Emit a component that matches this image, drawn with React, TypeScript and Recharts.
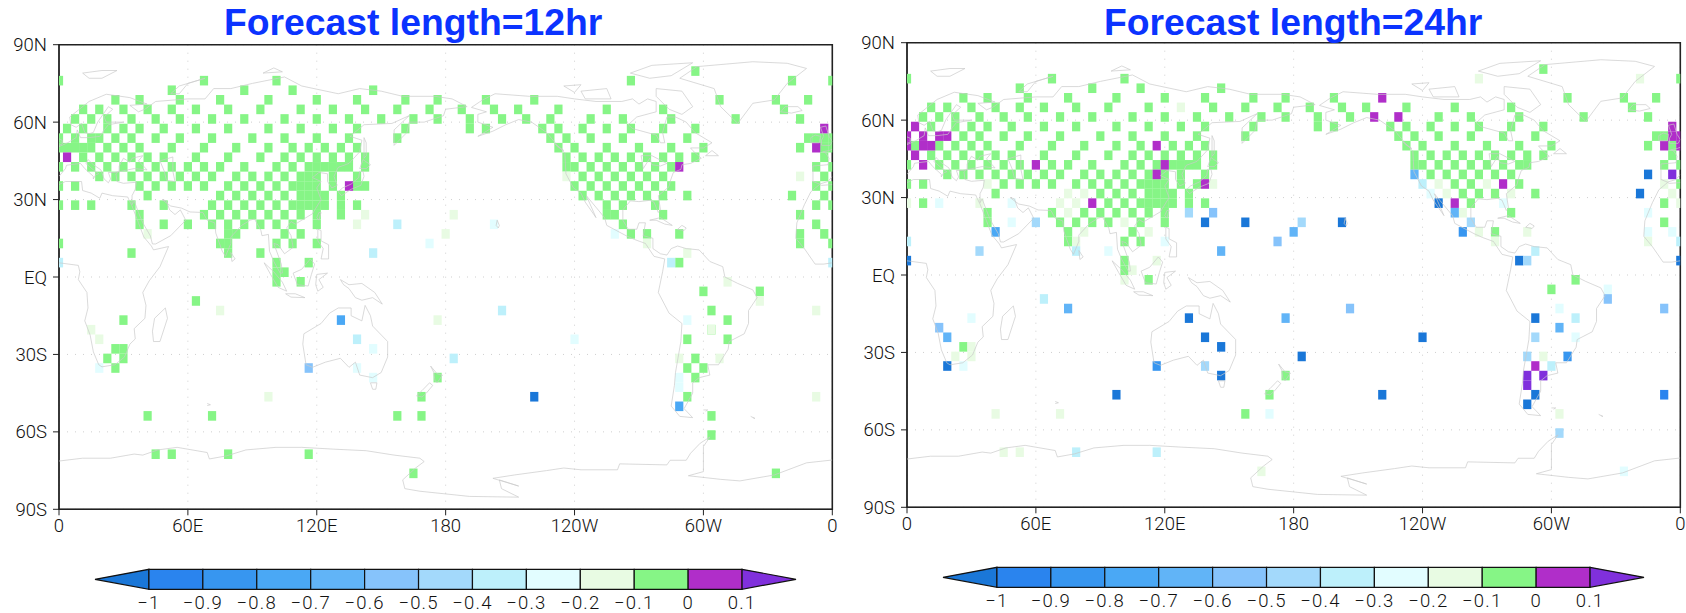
import { BarChart, Bar, CartesianGrid, ReferenceArea, Scatter, ScatterChart, XAxis, YAxis } from 'recharts';

type Row = [number, number[]];
type Other = [number, number, number];

const LON_STEP = 3.75;
const lonTicks = [0, 60, 120, 180, 240, 300, 360];
const lonLabels = ['0', '60E', '120E', '180', '120W', '60W', '0'];
const latTicks = [-90, -60, -30, 0, 30, 60, 90];
const latLabels = ['90S', '60S', '30S', 'EQ', '30N', '60N', '90N'];
const barLabels = ['\u22121', '\u22120.9', '\u22120.8', '\u22120.7', '\u22120.6', '\u22120.5', '\u22120.4', '\u22120.3', '\u22120.2', '\u22120.1', '0', '0.1'];
const barTicks = [-1, -0.9, -0.8, -0.7, -0.6, -0.5, -0.4, -0.3, -0.2, -0.1, 0, 0.1];
const fills = ['#1a77d8', '#2a84ee', '#3796f0', '#4aa8f5', '#61b4f7', '#86c3fb', '#a3d9fb', '#bdf0fb', '#e2fdff', '#e8fbe3', '#86f586', '#b02ec9', '#8030dc'];

// green (-0.1..0) cells: latitude, then grid columns (column * 3.75 = longitude)
const green12: Row[] = [
  [79.78, [79]],
  [76.07, [0, 18, 27, 71, 91, 96]],
  [72.36, [14, 23, 29, 39]],
  [68.65, [7, 10, 15, 20, 26, 32, 37, 43, 47, 53, 59, 82, 89, 93]],
  [64.94, [3, 5, 8, 11, 14, 17, 21, 25, 30, 34, 38, 42, 46, 50, 54, 57, 62, 68, 75, 90]],
  [61.23, [2, 4, 6, 9, 12, 15, 19, 23, 28, 32, 36, 40, 44, 47, 51, 55, 58, 61, 66, 70, 76, 84, 92]],
  [57.52, [1, 3, 6, 8, 10, 13, 17, 21, 26, 30, 34, 37, 43, 51, 53, 60, 62, 65, 68, 71, 75, 79]],
  [53.81, [0, 2, 4, 5, 7, 9, 12, 15, 19, 24, 28, 32, 36, 42, 61, 63, 66, 70, 74, 78, 93, 94, 95, 96]],
  [50.1, [0, 1, 2, 3, 4, 6, 8, 10, 14, 18, 22, 26, 29, 31, 33, 35, 37, 62, 64, 68, 72, 76, 80, 92, 95, 96]],
  [46.39, [3, 5, 7, 9, 11, 13, 17, 21, 25, 28, 30, 32, 34, 36, 38, 63, 65, 67, 69, 71, 73, 75, 77, 79, 95]],
  [42.68, [0, 2, 4, 6, 8, 10, 12, 14, 16, 18, 20, 23, 27, 29, 31, 32, 33, 34, 35, 36, 38, 63, 64, 66, 68, 70, 72, 74, 76, 94, 96]],
  [38.97, [5, 7, 9, 11, 13, 15, 17, 19, 22, 24, 26, 28, 30, 31, 32, 34, 37, 65, 67, 69, 71, 73, 75, 95]],
  [35.26, [0, 2, 10, 12, 14, 16, 18, 21, 23, 25, 27, 29, 30, 31, 32, 34, 37, 38, 64, 66, 68, 70, 72, 74, 76, 94, 96]],
  [31.55, [11, 20, 22, 24, 26, 28, 30, 31, 32, 33, 35, 65, 67, 69, 71, 73, 75, 78, 91, 95]],
  [27.84, [0, 2, 4, 9, 13, 19, 21, 23, 25, 27, 29, 30, 31, 32, 33, 35, 37, 68, 70, 74, 94, 96]],
  [24.13, [10, 18, 20, 22, 24, 26, 28, 30, 32, 35, 68, 69, 75, 92]],
  [20.41, [10, 13, 16, 19, 21, 23, 25, 27, 29, 32, 70, 94]],
  [16.7, [21, 22, 28, 30, 71, 73, 77, 92, 95]],
  [12.99, [0, 20, 21, 27, 29, 32, 92, 96]],
  [9.28, [9, 21, 25]],
  [5.57, [27, 31, 77]],
  [1.86, [27, 28]],
  [-1.86, [27, 30]],
  [-5.57, [80, 87]],
  [-9.28, [17]],
  [-12.99, [81]],
  [-16.7, [8, 83]],
  [-20.41, [81]],
  [-24.13, [78, 83]],
  [-27.84, [7, 8]],
  [-31.55, [6, 8, 79]],
  [-35.26, [7, 78, 80]],
  [-38.97, [47, 79]],
  [-46.39, [45, 78]],
  [-53.81, [11, 19, 42, 45, 81]],
  [-61.23, [81]],
  [-68.65, [12, 14, 21, 31]],
  [-76.07, [44, 89]],
];

const others12: Other[] = [
  [57.52, 95, 0.05], [50.1, 94, 0.05], [46.39, 1, 0.05], [42.68, 77, 0.05], [35.26, 36, 0.05],
  [38.97, 63, -0.15], [38.97, 92, -0.15], [24.13, 38, -0.15], [24.13, 49, -0.15], [20.41, 37, -0.15],
  [20.41, 42, -0.35], [20.41, 54, -0.25], [16.7, 11, -0.15], [16.7, 48, -0.15], [16.7, 69, -0.25],
  [12.99, 73, -0.15], [12.99, 46, -0.25], [9.28, 39, -0.35], [9.28, 78, -0.15], [5.57, 0, -0.35],
  [5.57, 96, -0.35], [5.57, 76, -0.35], [-1.86, 83, -0.15], [-9.28, 87, -0.15], [-12.99, 20, -0.15],
  [-12.99, 94, -0.15], [-12.99, 55, -0.35], [-16.7, 35, -0.75], [-16.7, 47, -0.15], [-16.7, 78, -0.25],
  [-20.41, 4, -0.15], [-24.13, 5, -0.15], [-24.13, 37, -0.35], [-24.13, 64, -0.25], [-20.41, 81, -0.15],
  [-27.84, 39, -0.25], [-31.55, 49, -0.35], [-31.55, 77, -0.15], [-31.55, 82, -0.15], [-35.26, 5, -0.25],
  [-35.26, 37, -0.25], [-35.26, 31, -0.55], [-38.97, 39, -0.25], [-38.97, 77, -0.25], [-42.68, 77, -0.25],
  [-46.39, 59, -1.05], [-46.39, 26, -0.15], [-46.39, 94, -0.15], [-50.1, 77, -0.75],
];

const green24: Row[] = [
  [79.78, [79]],
  [76.07, [0, 18, 27, 96]],
  [72.36, [14, 23, 29, 39]],
  [68.65, [7, 10, 15, 20, 26, 32, 37, 43, 47, 53, 82, 89, 93]],
  [64.94, [3, 5, 8, 11, 14, 17, 21, 25, 30, 38, 42, 46, 50, 54, 57, 62, 68, 75, 90]],
  [61.23, [2, 4, 6, 9, 12, 15, 19, 23, 28, 32, 36, 40, 44, 47, 51, 55, 66, 70, 76, 84, 92]],
  [57.52, [3, 6, 8, 10, 13, 17, 21, 26, 30, 34, 37, 43, 51, 53, 60, 62, 65, 68, 71, 75, 79]],
  [53.81, [7, 9, 12, 15, 19, 24, 28, 32, 36, 42, 61, 63, 66, 70, 74, 78, 93, 94]],
  [50.1, [1, 4, 6, 8, 10, 14, 18, 22, 26, 29, 33, 35, 37, 62, 64, 68, 72, 76, 80, 92, 95]],
  [46.39, [3, 5, 7, 9, 11, 13, 17, 21, 25, 28, 30, 32, 34, 36, 38, 63, 65, 67, 69, 71, 73, 75, 77, 79, 95]],
  [42.68, [0, 4, 6, 8, 10, 12, 14, 18, 20, 23, 27, 29, 31, 33, 34, 35, 36, 38, 63, 64, 66, 68, 70, 72, 74, 76, 77, 94, 96]],
  [38.97, [5, 7, 9, 11, 13, 15, 17, 19, 22, 24, 26, 28, 30, 32, 34, 37, 65, 67, 69, 71, 73, 75]],
  [35.26, [0, 2, 12, 14, 16, 18, 21, 23, 25, 27, 29, 30, 31, 32, 34, 36, 68, 70, 76, 96]],
  [31.55, [11, 24, 26, 28, 30, 31, 32, 33, 35, 69, 71, 73, 78]],
  [27.84, [2, 25, 27, 29, 30, 31, 32, 33, 35, 37, 70, 94]],
  [24.13, [10, 18, 22, 24, 26, 28, 30, 32, 75]],
  [20.41, [10, 19, 21, 23, 25, 29, 32, 94]],
  [16.7, [20, 28, 73]],
  [12.99, [20, 27, 29]],
  [5.57, [27]],
  [1.86, [27]],
  [-1.86, [30, 83]],
  [-5.57, [80]],
  [-27.84, [7]],
  [-38.97, [47]],
  [-46.39, [45]],
  [-53.81, [42]],
];

const others24: Other[] = [
  [76.07, 71, -0.15], [76.07, 91, -0.15], [68.65, 59, 0.05], [64.94, 34, -0.15], [61.23, 58, 0.05],
  [61.23, 61, 0.05], [57.52, 1, 0.05], [57.52, 95, 0.05], [53.81, 0, 0.05], [53.81, 2, 0.05],
  [53.81, 4, 0.05], [53.81, 5, 0.05], [53.81, 95, 0.05], [53.81, 96, 0.05], [50.1, 0, 0.05],
  [50.1, 2, 0.05], [50.1, 3, 0.05], [50.1, 31, 0.05], [50.1, 94, 0.05], [50.1, 96, 0.05],
  [46.39, 1, 0.05], [42.68, 2, 0.05], [42.68, 16, 0.05], [42.68, 32, 0.05], [38.97, 31, 0.05],
  [38.97, 63, -0.65], [38.97, 92, -1.05], [38.97, 95, 0.15], [35.26, 37, 0.05], [35.26, 74, 0.05],
  [35.26, 10, -0.15], [35.26, 38, -0.15], [35.26, 66, -0.15], [35.26, 72, -0.15], [35.26, 94, -0.15],
  [35.26, 64, -0.35], [31.55, 20, -0.15], [31.55, 22, -0.15], [31.55, 67, -0.15], [31.55, 75, -0.15],
  [31.55, 95, -0.15], [31.55, 65, -0.25], [31.55, 91, -1.05], [27.84, 23, 0.05], [27.84, 68, 0.05],
  [27.84, 0, -0.15], [27.84, 9, -0.15], [27.84, 19, -0.15], [27.84, 21, -0.15], [27.84, 96, -0.15],
  [27.84, 4, -0.25], [27.84, 13, -0.25], [27.84, 74, -0.25], [27.84, 66, -1.05], [24.13, 20, -0.15],
  [24.13, 69, -0.15], [24.13, 35, -0.45], [24.13, 38, -0.55], [24.13, 68, -0.65], [24.13, 92, -0.25],
  [20.41, 13, -0.25], [20.41, 16, -0.45], [20.41, 27, -0.15], [20.41, 37, -1.05], [20.41, 42, -1.05],
  [20.41, 54, -1.05], [20.41, 49, -0.45], [20.41, 70, -0.45], [16.7, 22, -0.15], [16.7, 30, -0.15],
  [16.7, 71, -0.15], [16.7, 77, -0.15], [16.7, 11, -0.75], [16.7, 48, -0.65], [16.7, 69, -0.85],
  [16.7, 92, -0.25], [16.7, 95, -0.25], [12.99, 21, -0.15], [12.99, 73, -0.15], [12.99, 92, -0.15],
  [12.99, 32, -0.25], [12.99, 0, -0.35], [12.99, 96, -0.35], [12.99, 46, -0.55], [9.28, 9, -0.45],
  [9.28, 21, -0.35], [9.28, 25, -0.25], [9.28, 39, -0.65], [9.28, 78, -0.35], [5.57, 31, -0.15],
  [5.57, 0, -1.05], [5.57, 96, -1.05], [5.57, 76, -1.05], [5.57, 77, -0.45], [1.86, 28, -0.15],
  [-1.86, 27, -0.15], [-5.57, 87, -0.25], [-9.28, 17, -0.35], [-9.28, 87, -0.55], [-12.99, 20, -0.65],
  [-12.99, 55, -0.55], [-12.99, 94, -0.55], [-12.99, 81, -0.25], [-16.7, 8, -0.25], [-16.7, 35, -1.05],
  [-16.7, 47, -0.65], [-16.7, 78, -1.05], [-16.7, 83, -0.35], [-20.41, 4, -0.55], [-20.41, 81, -0.65],
  [-24.13, 5, -0.65], [-24.13, 37, -1.05], [-24.13, 64, -1.05], [-24.13, 78, -0.45], [-24.13, 83, -0.25],
  [-27.84, 8, -0.15], [-27.84, 39, -1.05], [-31.55, 6, -0.15], [-31.55, 8, -0.15], [-31.55, 79, -0.15],
  [-31.55, 49, -1.05], [-31.55, 77, -0.45], [-31.55, 82, -0.85], [-35.26, 5, -1.05], [-35.26, 7, -0.25],
  [-35.26, 31, -0.85], [-35.26, 37, -0.45], [-35.26, 78, 0.05], [-35.26, 80, -0.35], [-38.97, 39, -1.05],
  [-38.97, 77, 0.15], [-38.97, 79, 0.15], [-42.68, 77, 0.15], [-46.39, 26, -1.05], [-46.39, 59, -1.05],
  [-46.39, 78, -1.05], [-46.39, 94, -0.95], [-50.1, 77, -1.05], [-53.81, 11, -0.15], [-53.81, 19, -0.15],
  [-53.81, 81, -0.15], [-53.81, 45, -0.25], [-61.23, 81, -0.45], [-68.65, 12, -0.15], [-68.65, 14, -0.15],
  [-68.65, 21, -0.35], [-68.65, 31, -0.35], [-76.07, 44, -0.15], [-76.07, 89, -0.25],
];

// coastlines, lon/lat pairs estimated from the map
const antarctica = [[0, -71.3], [11, -70.2], [24, -70.2], [35, -68.6], [39, -69], [46, -67], [55, -66], [69, -68], [70, -70.5], [78, -69.3], [87, -67], [101, -66], [113, -66], [128, -66.7], [143, -67.3], [156, -69], [168, -70.2], [170, -71.5], [166, -74], [160, -78.6], [161, -82], [168, -83], [191, -85], [214, -85.3], [206, -82], [205, -78.6], [214, -81], [202, -78], [212, -76.7], [227, -75], [235, -74], [243, -74.7], [260, -74.7], [261, -72.4], [283, -72.8], [284.5, -71], [292, -71], [294, -68.3], [298.5, -64.4], [303, -62], [300, -65.7], [300, -71.5], [300, -75.4], [293, -77], [308, -78.4], [317, -79], [333, -76.7], [348, -72], [360, -70.9]];
const africaEast = [[0, 5.5], [9, 4.5], [9.7, 2], [9, -1], [13, -6], [13.5, -12], [12, -17], [14.5, -22.5], [16, -29], [18.5, -34], [20, -34.8], [26, -34], [30.5, -31], [33, -26], [35.5, -24], [35, -20], [40, -16], [40.5, -11], [39, -6], [42, -1.5], [47, 4], [51, 11.8], [44, 10.5], [43, 12], [39.5, 15.5], [37, 21], [34, 27.5], [32.5, 30], [32, 31], [25, 31.5], [20, 32.5], [19, 30.5], [15, 32.5], [11, 33.5], [10.5, 37], [3, 37], [0, 35.8]];
const africaWest = [[360, 35.8], [355, 35.5], [354, 35.8], [350, 33], [347, 28], [343.5, 21], [343, 15], [347, 11], [352, 5], [356, 5], [360, 5.5]];
const madagascar = [[44.5, -16], [49.5, -12], [50.5, -16], [47, -25], [44, -25], [43.5, -21], [44.5, -16]];
const iberia = [[360, 39], [359, 38], [358, 37], [354, 36], [351, 37], [351, 43], [358, 43.5], [358.5, 46], [357, 48], [355.5, 48.5], [358.5, 49], [360, 49.5]];
const eurasiaSouth = [[0, 39], [3, 42], [3.5, 43.3], [7, 43.7], [10, 44], [12, 42], [16, 39], [16, 38], [17, 39.5], [18.5, 40], [16, 41.5], [12.5, 44], [13.5, 45.5], [16, 43.5], [19.5, 41.5], [21, 38], [23, 36.5], [24, 38], [23, 40.5], [26, 40.5], [29, 41], [35, 42], [41, 41.5], [37, 45], [39, 47], [34, 46], [33, 44.5], [30, 46], [28, 43], [28, 41.2], [26.5, 40], [27, 37], [30, 36.3], [36, 36.7], [35.5, 34], [34, 31.5], [34, 28], [35, 29.5], [37, 25], [39, 21], [42.5, 16], [43.5, 12.8], [45, 12.8], [52, 16], [59, 22], [56.5, 26], [54, 24.2], [51.5, 26], [50, 29.5], [48, 30], [52, 27.5], [57, 26.7], [61, 25.2], [67, 25], [69, 22], [72.5, 21], [73, 17], [76, 10], [77.5, 8], [80, 13], [80, 15.5], [85, 20], [89, 22], [91, 22.5], [94, 18], [94.5, 16], [97.5, 16.5], [98, 10], [100, 6], [103, 1.5], [104, 1.5], [103.5, 5], [100, 13], [102, 12.5], [105, 9], [109, 11.5], [108, 16], [106, 19], [108, 21.5], [110, 20.5], [113, 22], [118, 24.5], [122, 30], [120, 34.5], [122, 37], [118, 38.5], [121, 40.5], [125, 40], [125, 37], [127, 34.5], [129.5, 35.5], [128, 39], [130, 42.5], [135, 44], [140, 48.5], [141, 53], [135.5, 54.5], [142, 59], [155, 59.5], [163, 62.5], [156, 57], [156, 51], [162, 56], [163, 60], [170, 60], [179, 62.5], [180, 65], [190, 66], [183, 69], [175, 70], [160, 70], [150, 72], [140, 73], [130, 71], [113, 74], [105, 77.5], [90, 75], [80, 73], [72, 73], [68, 69], [60, 69], [45, 68], [40, 65], [37, 64], [33, 66.5], [41, 67], [33, 69.5], [22, 70.8], [14, 68], [5, 62], [5.5, 59], [8, 58], [10.5, 59.5], [12, 56], [14, 55.5], [16, 56], [18, 60], [23, 66], [25, 65], [21, 62], [22, 60], [30, 60], [23, 59], [21, 57], [19, 54.5], [14, 54], [10, 54], [8.5, 57], [8, 54], [4, 52], [0, 50.5]];
const americas = [[192, 65.7], [197, 68.5], [203, 71], [219, 70], [232, 70], [240, 69], [250, 68], [262, 68], [267, 69], [270, 67], [274, 69], [278, 68], [278, 64], [269, 62], [265, 59], [267, 57.5], [278, 55], [280, 52], [282, 52], [281, 56], [283, 62], [287, 62], [292, 60], [296, 56], [304, 52], [300, 50], [294, 50], [295, 49], [299, 46], [294, 44], [290, 43.5], [289.5, 41.7], [286, 40.5], [284.5, 37], [284, 35], [279, 31.5], [280, 26], [279, 25], [277, 29], [275, 29.7], [270, 29.2], [266, 29.5], [262.5, 26], [262.5, 22], [265, 18.5], [269, 18.5], [270, 21], [273, 21], [272, 16], [276.5, 15], [276.5, 11], [280, 9], [283, 8.5], [285, 11], [288, 12], [292, 11], [298, 10.5], [303, 6], [309, 4], [310, 0], [316, -2.5], [323, -5], [325, -8], [321, -13], [321, -18], [319, -22], [312, -25], [311.5, -28], [307, -34], [302, -34], [303, -38], [298, -39], [295, -41], [295, -45], [291, -51], [295, -54.5], [289, -54], [285, -50], [286.5, -42], [287, -37], [289.5, -25], [290, -18], [284, -14], [279, -6], [280, -2], [281, 2], [282, 7], [277, 8], [273, 13], [268, 14.5], [264, 16], [255, 20], [254, 23], [248, 29], [245.5, 31.5], [250, 23], [245, 29], [243, 32.5], [239.5, 34.5], [236, 40], [235.5, 48], [232, 51], [227, 56], [220, 60], [214, 61], [208, 59], [202, 56.5], [195, 54.5], [202, 58], [195, 60], [195, 63], [199, 64], [192, 65.7]];
const greenland = [[289, 77], [297, 81.5], [323, 83.4], [339, 82.8], [348, 80.8], [339, 75], [333, 68.6], [323, 67.3], [316, 59.5], [308, 66], [305, 73], [289, 77]];
const australia = [[114, -22], [113.5, -26], [115, -34], [118, -35], [124, -33], [131, -31.5], [135, -35], [138, -33], [140, -38], [146, -39], [150, -37], [153, -31], [153, -25], [146, -19], [145, -15], [142.5, -11], [141, -17], [136, -15], [136, -12], [130, -12], [126, -14], [122, -18], [114, -22]];
const tasmania = [[145, -41], [148, -41], [147.5, -43.5], [146, -43.5], [145, -41]];
const newZealandN = [[173, -34.5], [176, -37.5], [178.5, -38], [176, -41], [175, -40], [174.5, -37], [173, -34.5]];
const newZealandS = [[172.5, -41], [174, -42], [171, -45], [169, -46.5], [166.5, -46], [169, -44], [172.5, -41]];
const newGuinea = [[131, -1], [135, -3], [141, -2.5], [147, -6], [150.5, -10.5], [146, -8], [141, -9], [138, -8], [135, -4.5], [132.5, -3], [131, -1]];
const borneo = [[109, 1.5], [113, 3], [117, 7], [119, 5], [117.5, 1], [116, -3.5], [111, -3], [109, 1.5]];
const sumatra = [[95.5, 5.5], [100, 2], [104, -2], [106, -5.5], [102, -4], [98.5, 1], [95.5, 5.5]];
const java = [[105.5, -6.5], [110, -6.5], [114.5, -8], [108, -7.8], [105.5, -6.5]];
const sulawesi = [[120, 1], [125, 1.5], [121, -1], [123, -4], [120.5, -5.5], [119.5, -3], [120, 1]];
const philippines = [[120.5, 18.5], [122, 18], [122, 14], [125.5, 12.5], [125.5, 7], [122, 7], [123, 11], [120.5, 14], [120.5, 18.5]];
const japan = [[130, 33], [132, 34.5], [136, 36], [139.5, 38.5], [140, 41], [141.5, 41], [142, 39], [140.5, 35.5], [136, 34], [131.5, 31.5], [130, 33]];
const hokkaido = [[140, 42], [141.5, 45.5], [145, 43.5], [143, 42], [140, 42]];
const sakhalin = [[142, 54], [143, 52], [143, 47], [142, 46], [142, 50], [142, 54]];
const britain = [[355, 51], [359, 51], [360, 52.5], [358.5, 54.5], [357, 58.5], [354.5, 58], [356, 54.5], [355, 53], [355, 51]];
const britainEast = [[0, 51], [1.5, 51.5], [1.5, 53], [0, 53.5]];
const ireland = [[350, 52], [354, 52], [354.5, 54.5], [352, 55], [350, 54], [350, 52]];
const iceland = [[336, 64], [338, 66], [344, 66], [346, 64.5], [341, 63.5], [336, 64]];
const svalbard = [[11, 79], [20, 80], [27, 80], [20, 77], [14, 77], [11, 79]];
const novayaZemlya = [[52, 71], [56, 74], [68, 77], [60, 75], [56, 71], [52, 71]];
const severnaya = [[95, 79], [104, 79.5], [100, 81], [95, 79]];
const caspian = [[47, 45], [53, 46.5], [53, 41], [54, 37], [50, 37.5], [49, 41], [47, 45]];
const cuba = [[275, 22], [280, 23], [285.5, 20], [282, 20.5], [278, 22], [275, 22]];
const hispaniola = [[288, 18.5], [290, 20], [292, 19], [291, 18], [288, 18.5]];
const sriLanka = [[80, 9.5], [82, 7], [80.5, 6], [80, 9.5]];
const taiwan = [[121, 25], [122, 25], [121, 22], [120, 23], [121, 25]];
const baffin = [[278, 73], [290, 72], [295, 66], [290, 63], [284, 65], [278, 70], [278, 73]];
const victoria = [[243, 72], [255, 73], [257, 69], [245, 69], [243, 72]];
const ellesmere = [[266, 79], [276, 82], [295, 83], [285, 78], [275, 77], [266, 79]];
const banks = [[235, 74], [243, 74.5], [240, 71.5], [235, 74]];
const newfoundland = [[301, 47], [304, 49], [307, 47], [301, 47]];
const vancouver = [[232, 50.5], [235, 49], [231, 51.5], [232, 50.5]];
const greatLakes = [[272, 42], [275, 46], [276, 43.5], [280, 43], [283, 44], [276, 47], [271, 47], [272, 42]];
const hawaii = [[204, 22], [205, 20], [204.5, 19], [203.5, 20], [204, 22]];
const kerguelen = [[69, -49], [70.5, -49.5], [69, -49.8]];
const falkland = [[300, -51.5], [302, -51.5], [301, -52]];
const southGeorgia = [[322, -54], [324, -54.8], [323, -54.5]];
const coastlines = [antarctica, africaEast, africaWest, madagascar, iberia, eurasiaSouth, americas, greenland, australia, tasmania, newZealandN, newZealandS, newGuinea, borneo, sumatra, java, sulawesi, philippines, japan, hokkaido, sakhalin, britain, britainEast, ireland, iceland, svalbard, novayaZemlya, severnaya, caspian, cuba, hispaniola, sriLanka, taiwan, baffin, victoria, ellesmere, banks, newfoundland, vancouver, greatLakes, hawaii, kerguelen, falkland, southGeorgia];

const FONT = 'Roboto, "Liberation Sans", sans-serif';
const tickStyle = { fontSize: 18.5, fontFamily: FONT, fontWeight: 300, fill: '#111' };
const barTickStyle = { ...tickStyle, letterSpacing: 1.2 };

function colorFor(value: number): string {
  return fills[Math.min(12, Math.max(0, Math.floor((value + 1.1) * 10 + 0.001)))];
}

function toCells(green: Row[], others: Other[]) {
  const cells: { lon: number; lat: number; value: number }[] = [];
  green.forEach(([lat, cols]) => cols.forEach((c) => cells.push({ lon: c * LON_STEP, lat, value: -0.05 })));
  others.forEach(([lat, c, value]) => cells.push({ lon: c * LON_STEP, lat, value }));
  return cells;
}

function CellMark(props: any) {
  const { cx, cy, payload } = props;
  return <rect x={cx - 4.1} y={cy - 4.8} width={8.2} height={9.6} fill={colorFor(payload.value)} />;
}

const NoMark = () => <g />;

function MapPanel({ left, top, cells }: { left: number; top: number; cells: any[] }) {
  return (
    <div style={{ position: 'absolute', left, top }}>
      <ScatterChart width={843} height={545} margin={{ top: 44.7, right: 10.7, bottom: 0.7, left: 0 }}>
        <CartesianGrid stroke="#cfcfcf" strokeDasharray="1 7" />
        <XAxis
          type="number"
          dataKey="lon"
          domain={[0, 360]}
          ticks={lonTicks}
          allowDataOverflow
          interval={0}
          tickSize={6}
          tickMargin={4}
          height={35}
          stroke="#222"
          tick={tickStyle}
          tickFormatter={(_v: number, i: number) => lonLabels[i]}
        />
        <YAxis
          type="number"
          dataKey="lat"
          domain={[-90, 90]}
          ticks={latTicks}
          allowDataOverflow
          interval={0}
          width={59}
          tickSize={6}
          tickMargin={6}
          stroke="#222"
          tick={tickStyle}
          tickFormatter={(_v: number, i: number) => latLabels[i]}
        />
        <Scatter data={cells} shape={CellMark} isAnimationActive={false} />
        {coastlines.map((line, i) => (
          <Scatter
            key={i}
            data={line.map(([lon, lat]) => ({ lon, lat }))}
            line={{ stroke: '#cacaca', strokeWidth: 0.7 }}
            lineType="joint"
            shape={NoMark}
            isAnimationActive={false}
          />
        ))}
        <ReferenceArea x1={0} x2={360} y1={-90} y2={90} fill="none" stroke="#222" strokeWidth={1.6} fillOpacity={0} />
      </ScatterChart>
    </div>
  );
}

function TriangleBar(props: any) {
  const { x, y, width, height, fill, pointLeft } = props;
  const pts = pointLeft
    ? `${x},${y + height / 2} ${x + width},${y} ${x + width},${y + height}`
    : `${x},${y} ${x + width},${y + height / 2} ${x},${y + height}`;
  return <polygon points={pts} fill={fill} stroke="#111" strokeWidth={1.2} />;
}

function ColorBar({ left, top }: { left: number; top: number }) {
  const row: Record<string, number> = { base: -1.1 };
  fills.forEach((_f, i) => {
    row[`s${i}`] = 0.1;
  });
  return (
    <div style={{ position: 'absolute', left, top }}>
      <BarChart width={705} height={48} data={[row]} layout="vertical" barCategoryGap={0} margin={{ top: 1.3, right: 2, bottom: 0, left: 2 }}>
        <XAxis
          type="number"
          domain={[-1.1, 0.2]}
          ticks={barTicks}
          interval={0}
          axisLine={false}
          tickLine={false}
          tickMargin={0}
          height={26.3}
          tick={barTickStyle}
          tickFormatter={(_v: number, i: number) => barLabels[i]}
        />
        <YAxis type="category" hide />
        <Bar dataKey="base" stackId="cb" shape={NoMark} isAnimationActive={false} />
        {fills.map((f, i) => (
          <Bar
            key={f}
            dataKey={`s${i}`}
            stackId="cb"
            fill={f}
            stroke="#111"
            strokeWidth={1.2}
            isAnimationActive={false}
            shape={i === 0 ? (p: any) => <TriangleBar {...p} pointLeft /> : i === 12 ? (p: any) => <TriangleBar {...p} /> : undefined}
          />
        ))}
      </BarChart>
    </div>
  );
}

const titleStyle = {
  position: 'absolute' as const,
  top: 0,
  fontFamily: '"Liberation Sans", Arial, sans-serif',
  fontWeight: 700,
  fontSize: 37.3,
  lineHeight: '44px',
  color: '#0b33ff',
  whiteSpace: 'nowrap' as const,
};

const cells12 = toCells(green12, others12);
const cells24 = toCells(green24, others24);

export default function App() {
  return (
    <div style={{ position: 'absolute', left: 0, top: 0, width: 1686, height: 613, background: '#fff', overflow: 'hidden' }}>
      <MapPanel left={0} top={0} cells={cells12} />
      <MapPanel left={848.3} top={-2} cells={cells24} />
      <ColorBar left={93} top={568} />
      <ColorBar left={941.3} top={566} />
      <div style={{ ...titleStyle, left: 224 }}>Forecast length=12hr</div>
      <div style={{ ...titleStyle, left: 1104 }}>Forecast length=24hr</div>
    </div>
  );
}
